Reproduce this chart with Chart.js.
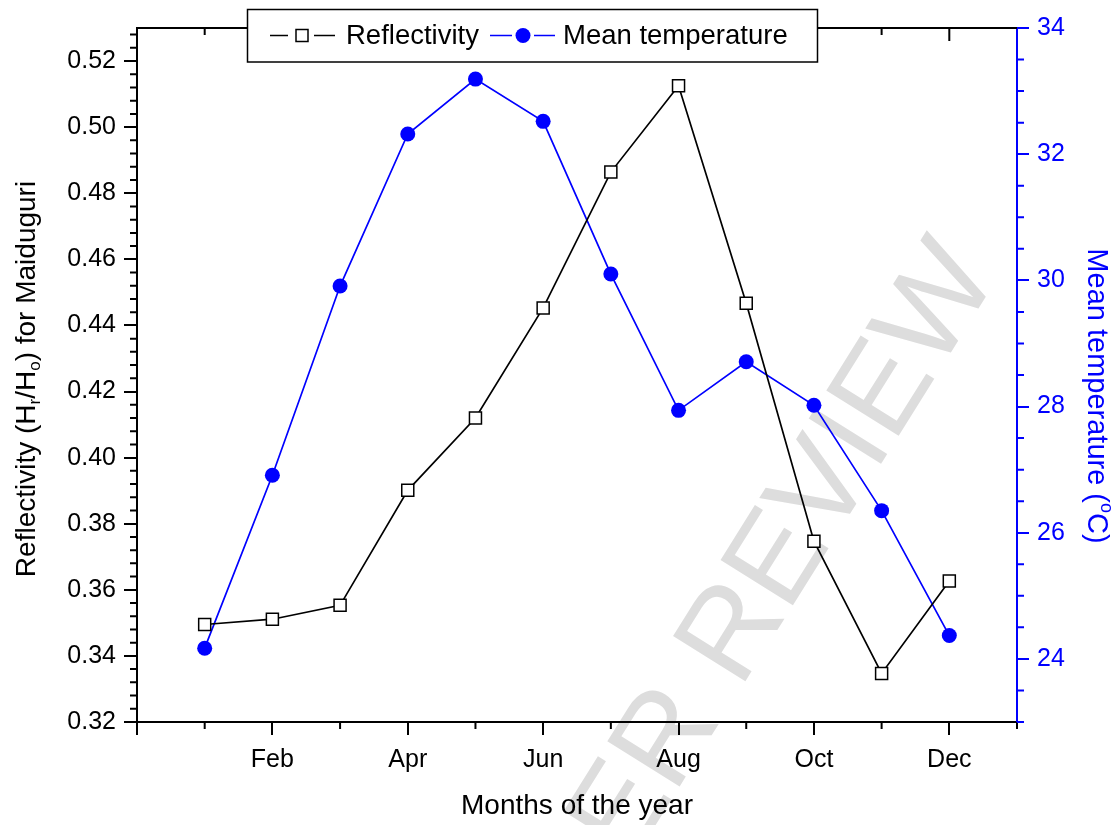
<!DOCTYPE html>
<html>
<head>
<meta charset="utf-8">
<script src="https://cdn.jsdelivr.net/npm/chart.js@4.4.1/dist/chart.umd.min.js"></script>
<style>
  html, body { margin: 0; padding: 0; background: #fff; }
  canvas { display: block; }
</style>
</head>
<body>
<canvas id="chartRefl" width="1118" height="825"></canvas>
<script>
// values
const months = ["Jan", "Feb", "Mar", "Apr", "May", "Jun", "Jul", "Aug", "Sep", "Oct", "Nov", "Dec"];
const monthPos = [1, 2, 3, 4, 5, 6, 7, 8, 9, 10, 11, 12];
const reflectivity = [0.3495, 0.3511, 0.3553, 0.3901, 0.4120, 0.4453, 0.4864, 0.5125, 0.4467, 0.3747, 0.3347, 0.3627];
const meanTemp = [24.17, 26.91, 29.91, 32.32, 33.19, 32.52, 30.10, 27.94, 28.71, 28.02, 26.35, 24.37];
const reflTicks = [0.32, 0.34, 0.36, 0.38, 0.40, 0.42, 0.44, 0.46, 0.48, 0.50, 0.52];
const tempTicks = [24, 26, 28, 30, 32, 34];
const monthTicks = [0, 2, 4, 6, 8, 10, 12];

const FONT = "'Liberation Sans', Arial, sans-serif";
const BLUE = "#0000ff";

// titles with sub/superscripts, drawn piece by piece
function drawRich(ctx, parts, size) {
  let total = 0;
  parts.forEach((p) => {
    ctx.font = (p.sub || p.sup ? Math.round(size * 0.62) : size) + "px " + FONT;
    p.w = ctx.measureText(p.t).width;
    total += p.w;
  });
  let x = -total / 2;
  parts.forEach((p) => {
    ctx.font = (p.sub || p.sup ? Math.round(size * 0.62) : size) + "px " + FONT;
    let dy = 0;
    if (p.sub) dy = size * 0.3;
    if (p.sup) dy = -size * 0.35;
    ctx.fillText(p.t, x, dy);
    x += p.w;
  });
}

const watermark = {
  id: "watermark",
  beforeDraw(chart) {
    const ctx = chart.ctx;
    ctx.save();
    ctx.translate(742, 622);
    ctx.rotate((-58 * Math.PI) / 180);
    ctx.font = "124px " + FONT;
    ctx.fillStyle = "#dddddd";
    ctx.textAlign = "center";
    ctx.textBaseline = "middle";
    ctx.fillText("PEER REVIEW", 0, 0);
    ctx.restore();
  },
};

const frame = {
  id: "frame",
  afterDraw(chart) {
    const ctx = chart.ctx;
    const a = chart.chartArea;
    const sx = chart.scales.x;
    const sl = chart.scales.yRefl;
    const sr = chart.scales.yTemp;
    ctx.save();
    ctx.lineWidth = 2;

    // top border + inward ticks
    ctx.strokeStyle = "#000";
    ctx.beginPath();
    ctx.moveTo(a.left - 1, a.top);
    ctx.lineTo(a.right, a.top);
    for (let m = 1; m <= 12; m++) {
      const px = sx.getPixelForValue(m);
      ctx.moveTo(px, a.top);
      ctx.lineTo(px, a.top + (m % 2 === 0 ? 13 : 7));
    }
    // minor ticks bottom (odd months)
    for (let m = 1; m <= 13; m += 2) {
      const px = sx.getPixelForValue(m);
      ctx.moveTo(px, a.bottom);
      ctx.lineTo(px, a.bottom + 7);
    }
    // minor ticks left
    for (let i = 1; i <= 52; i++) {
      if (i % 5 === 0) continue;
      const py = sl.getPixelForValue(0.32 + i * 0.004);
      ctx.moveTo(a.left - 7, py);
      ctx.lineTo(a.left, py);
    }
    ctx.stroke();

    // minor ticks right
    ctx.strokeStyle = BLUE;
    ctx.beginPath();
    for (let i = 0; i <= 22; i++) {
      const v = 23 + i * 0.5;
      if (v % 2 === 0) continue;
      const py = sr.getPixelForValue(v);
      ctx.moveTo(a.right, py);
      ctx.lineTo(a.right + 7, py);
    }
    ctx.stroke();

    // axis titles
    ctx.textBaseline = "middle";
    ctx.textAlign = "left";
    ctx.fillStyle = "#000";
    ctx.save();
    ctx.translate(27, 379);
    ctx.rotate(-Math.PI / 2);
    drawRich(ctx, [
      { t: "Reflectivity (H" },
      { t: "r", sub: true },
      { t: "/H" },
      { t: "o", sub: true },
      { t: ") for Maiduguri" },
    ], 28);
    ctx.restore();

    ctx.fillStyle = BLUE;
    ctx.save();
    ctx.translate(1096, 396);
    ctx.rotate(Math.PI / 2);
    drawRich(ctx, [
      { t: "Mean temperature (" },
      { t: "o", sup: true },
      { t: "C)" },
    ], 29);
    ctx.restore();

    ctx.fillStyle = "#000";
    ctx.save();
    ctx.translate((a.left + a.right) / 2, 806);
    drawRich(ctx, [{ t: "Months of the year" }], 28);
    ctx.restore();

    // legend
    const d0 = chart.data.datasets[0];
    const d1 = chart.data.datasets[1];
    const ly = 35.5;
    ctx.fillStyle = "#fff";
    ctx.strokeStyle = "#000";
    ctx.lineWidth = 1.5;
    ctx.fillRect(247.5, 9.5, 570, 52.5);
    ctx.strokeRect(247.5, 9.5, 570, 52.5);

    ctx.lineWidth = d0.borderWidth;
    ctx.strokeStyle = d0.borderColor;
    ctx.beginPath();
    ctx.moveTo(270, ly); ctx.lineTo(288, ly);
    ctx.moveTo(314, ly); ctx.lineTo(335, ly);
    ctx.stroke();
    ctx.fillStyle = "#fff";
    ctx.lineWidth = d0.pointBorderWidth;
    ctx.fillRect(296, ly - 6, 12, 12);
    ctx.strokeRect(296, ly - 6, 12, 12);

    ctx.lineWidth = d1.borderWidth;
    ctx.strokeStyle = d1.borderColor;
    ctx.beginPath();
    ctx.moveTo(490, ly); ctx.lineTo(512, ly);
    ctx.moveTo(534, ly); ctx.lineTo(555, ly);
    ctx.stroke();
    ctx.fillStyle = d1.pointBackgroundColor;
    ctx.beginPath();
    ctx.arc(523, ly, d1.pointRadius, 0, Math.PI * 2);
    ctx.fill();

    ctx.fillStyle = "#000";
    ctx.font = "27.5px " + FONT;
    ctx.textAlign = "left";
    ctx.textBaseline = "middle";
    ctx.fillText(d0.label, 346, ly + 1);
    ctx.fillText(d1.label, 563, ly + 1);

    ctx.restore();
  },
};

const chartRefl = document.getElementById("chartRefl");
new Chart(chartRefl, {
  type: "line",
  data: {
    datasets: [
      {
        label: "Reflectivity",
        data: monthPos.map((m, i) => ({ x: m, y: reflectivity[i] })),
        yAxisID: "yRefl",
        borderColor: "#000",
        borderWidth: 1.7,
        pointStyle: "rect",
        pointRadius: 8.5,
        pointBackgroundColor: "#fff",
        pointBorderColor: "#000",
        pointBorderWidth: 1.5,
        tension: 0,
      },
      {
        label: "Mean temperature",
        data: monthPos.map((m, i) => ({ x: m, y: meanTemp[i] })),
        yAxisID: "yTemp",
        borderColor: BLUE,
        borderWidth: 1.7,
        pointStyle: "circle",
        pointRadius: 7.5,
        pointBackgroundColor: BLUE,
        pointBorderColor: BLUE,
        pointBorderWidth: 0,
        tension: 0,
      },
    ],
  },
  options: {
    responsive: false,
    animation: false,
    layout: { padding: { top: 28, left: 0, right: 0, bottom: 0 } },
    plugins: {
      legend: { display: false },
      tooltip: { enabled: false },
    },
    scales: {
      x: {
        type: "linear",
        min: 0,
        max: 13,
        afterBuildTicks: (s) => {
          s.ticks = monthTicks.map((v) => ({ value: v }));
        },
        afterFit: (s) => {
          s.height = 103;
        },
        ticks: {
          autoSkip: false,
          maxRotation: 0,
          padding: 10,
          color: "#000",
          font: { family: FONT, size: 25 },
          callback: (v) => (v >= 1 && v <= 12 ? months[v - 1] : ""),
        },
        grid: { drawOnChartArea: false, tickLength: 13, color: "#000", lineWidth: 2 },
        border: { color: "#000", width: 2 },
      },
      yRefl: {
        type: "linear",
        position: "left",
        min: 0.32,
        max: 0.53,
        afterBuildTicks: (s) => {
          s.ticks = reflTicks.map((v) => ({ value: v }));
        },
        afterFit: (s) => {
          s.width = 137;
        },
        ticks: {
          padding: 8,
          color: "#000",
          font: { family: FONT, size: 25 },
          callback: (v) => v.toFixed(2),
        },
        grid: { drawOnChartArea: false, tickLength: 13, color: "#000", lineWidth: 2 },
        border: { color: "#000", width: 2 },
      },
      yTemp: {
        type: "linear",
        position: "right",
        min: 23,
        max: 34,
        afterBuildTicks: (s) => {
          s.ticks = tempTicks.map((v) => ({ value: v }));
        },
        afterFit: (s) => {
          s.width = 101;
        },
        ticks: {
          padding: 8,
          color: BLUE,
          font: { family: FONT, size: 25 },
        },
        grid: { drawOnChartArea: false, tickLength: 12, color: BLUE, lineWidth: 2 },
        border: { color: BLUE, width: 2 },
      },
    },
  },
  plugins: [watermark, frame],
});
</script>
</body>
</html>
